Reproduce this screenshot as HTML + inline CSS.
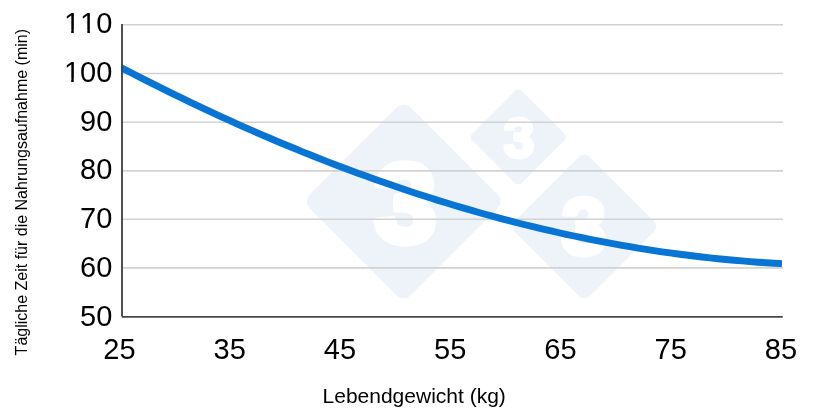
<!DOCTYPE html>
<html><head><meta charset="utf-8"><style>
html,body{margin:0;padding:0;background:#fff;}
svg{display:block;}
text{font-family:"Liberation Sans",Arial,sans-serif;font-kerning:none;}
.wm text{fill:#fff;stroke:#fff;font-weight:bold;}
</style></head><body>
<svg width="820" height="419" viewBox="0 0 820 419">
<rect width="820" height="419" fill="#fff"/>
<filter id="bl" x="-10%" y="-10%" width="120%" height="120%"><feGaussianBlur stdDeviation="0.7"/></filter>
<g filter="url(#bl)">
<g fill="#eef3fa">
<rect x="-71.42" y="-71.42" width="142.84" height="142.84" rx="10" transform="translate(403.6 201.5) rotate(45)"/>
<rect x="-35.00" y="-35.00" width="70.00" height="70.00" rx="5" transform="translate(518.3 137) rotate(45)"/>
<rect x="-53.03" y="-53.03" width="106.07" height="106.07" rx="7.5" transform="translate(584.3 226.5) rotate(45)"/>
</g>
<g class="wm" stroke-linejoin="round" text-anchor="middle" style="font-family:'Liberation Sans',sans-serif;font-weight:bold">
<text x="405.3" y="241.8" font-size="112" stroke-width="7">3</text>
<text x="519" y="156.5" font-size="55" stroke-width="3.4">3</text>
<text x="584" y="254.4" font-size="80" stroke-width="5">3</text>
</g>
</g>
<g stroke="#d2d2d2" stroke-width="1.6"><line x1="122" y1="24.8" x2="783" y2="24.8"/><line x1="122" y1="73.55" x2="783" y2="73.55"/><line x1="122" y1="122.26" x2="783" y2="122.26"/><line x1="122" y1="170.9" x2="783" y2="170.9"/><line x1="122" y1="219.2" x2="783" y2="219.2"/><line x1="122" y1="267.9" x2="783" y2="267.9"/></g>
<clipPath id="cp"><rect x="121" y="0" width="661.7" height="419"/></clipPath>
<polyline points="118.0,66.0 126.0,70.1 134.0,74.3 142.0,78.4 150.0,82.4 158.0,86.4 166.0,90.4 174.0,94.3 182.0,98.2 190.0,102.1 198.0,105.9 206.0,109.7 214.0,113.4 222.0,117.1 230.0,120.7 238.0,124.3 246.0,127.9 254.0,131.4 262.0,134.9 270.0,138.3 278.0,141.7 286.0,145.0 294.0,148.3 302.0,151.6 310.0,154.8 318.0,158.0 326.0,161.1 334.0,164.2 342.0,167.3 350.0,170.3 358.0,173.2 366.0,176.1 374.0,179.0 382.0,181.8 390.0,184.6 398.0,187.3 406.0,190.0 414.0,192.7 422.0,195.3 430.0,197.8 438.0,200.4 446.0,202.8 454.0,205.2 462.0,207.6 470.0,209.9 478.0,212.2 486.0,214.5 494.0,216.7 502.0,218.8 510.0,220.9 518.0,223.0 526.0,225.0 534.0,226.9 542.0,228.8 550.0,230.7 558.0,232.5 566.0,234.3 574.0,236.0 582.0,237.7 590.0,239.3 598.0,240.9 606.0,242.4 614.0,243.9 622.0,245.3 630.0,246.7 638.0,248.1 646.0,249.3 654.0,250.6 662.0,251.8 670.0,252.9 678.0,254.0 686.0,255.0 694.0,256.0 702.0,257.0 710.0,257.9 718.0,258.7 726.0,259.5 734.0,260.2 742.0,260.9 750.0,261.6 758.0,262.2 766.0,262.7 774.0,263.2 782.0,263.6" fill="none" stroke="#0874d4" stroke-width="6.9" stroke-linejoin="round" clip-path="url(#cp)"/>
<line x1="122" y1="24" x2="122" y2="316.3" stroke="#474747" stroke-width="1.9"/>
<line x1="121.8" y1="316.9" x2="782.8" y2="316.9" stroke="#474747" stroke-width="1.9"/>
<g font-size="29"><text x="112.3" y="32.95" text-anchor="end">110</text><text x="112.3" y="81.75" text-anchor="end">100</text><text x="112.3" y="130.55" text-anchor="end">90</text><text x="112.3" y="179.35" text-anchor="end">80</text><text x="112.3" y="228.15" text-anchor="end">70</text><text x="112.3" y="276.95" text-anchor="end">60</text><text x="112.3" y="325.75" text-anchor="end">50</text><text x="119.40" y="358.9" text-anchor="middle">25</text><text x="229.66" y="358.9" text-anchor="middle">35</text><text x="339.92" y="358.9" text-anchor="middle">45</text><text x="450.18" y="358.9" text-anchor="middle">55</text><text x="560.44" y="358.9" text-anchor="middle">65</text><text x="670.70" y="358.9" text-anchor="middle">75</text><text x="780.96" y="358.9" text-anchor="middle">85</text></g>
<g fill="#fff"><rect x="65.52" y="29.78" width="5.68" height="3.97"/><rect x="73.77" y="29.78" width="5.46" height="3.97"/><rect x="81.65" y="29.78" width="5.68" height="3.97"/><rect x="89.90" y="29.78" width="5.46" height="3.97"/><rect x="65.52" y="78.58" width="5.68" height="3.97"/><rect x="73.77" y="78.58" width="5.46" height="3.97"/></g>
<text x="414.2" y="402.6" font-size="21" text-anchor="middle">Lebendgewicht (kg)</text>
<text transform="translate(27.3 192.2) rotate(-90)" font-size="16" text-anchor="middle">Tägliche Zeit für die Nahrungsaufnahme (min)</text>
</svg>
</body></html>
